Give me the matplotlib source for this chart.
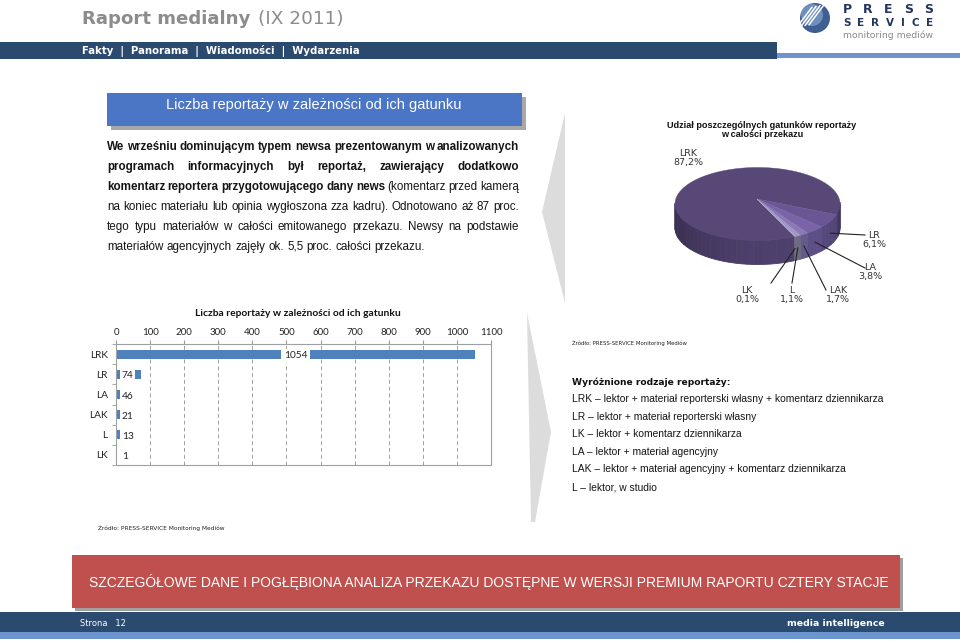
import numpy as np
import matplotlib
matplotlib.use("Agg")
import matplotlib.pyplot as plt
from matplotlib.patches import Rectangle, Polygon, Circle
from matplotlib.colors import to_rgb

# data
CATEGORIES = ["LRK", "LR", "LA", "LAK", "L", "LK"]
COUNTS = [1054, 74, 46, 21, 13, 1]
SHARES = [87.2, 6.1, 3.8, 1.7, 1.1, 0.1]
SHARE_LABELS = ["87,2%", "6,1%", "3,8%", "1,7%", "1,1%", "0,1%"]
X_TICKS = list(range(0, 1101, 100))

LEGEND_ITEMS = [
    "LRK \u2013 lektor + materiał reporterski własny + komentarz dziennikarza",
    "LR \u2013 lektor + materiał reporterski własny",
    "LK \u2013 lektor + komentarz dziennikarza",
    "LA \u2013 lektor + materiał agencyjny",
    "LAK \u2013 lektor + materiał agencyjny + komentarz dziennikarza",
    "L \u2013 lektor, w studio",
]

PARAGRAPH = [
    [("We wrześniu dominującym typem newsa prezentowanym w analizowanych", "bold")],
    [("programach informacyjnych był reportaż, zawierający dodatkowo", "bold")],
    [("komentarz reportera przygotowującego dany news", "bold"), ("(komentarz przed kamerą", "normal")],
    [("na koniec materiału lub opinia wygłoszona zza kadru). Odnotowano aż 87 proc.", "normal")],
    [("tego typu materiałów w całości emitowanego przekazu. Newsy na podstawie", "normal")],
    [("materiałów agencyjnych zajęły ok. 5,5 proc. całości przekazu.", "normal")],
]

NAVY = "#2b4a70"
LIGHT_BLUE = "#6c94cf"
BAR_BLUE = "#4f81bd"
BODY = "Liberation Sans"

fig = plt.figure(figsize=(9.6, 6.44), dpi=100)
fig.patch.set_facecolor("white")
R = fig.canvas.get_renderer()

pg = fig.add_axes([0, 0, 1, 1])
pg.set_xlim(0, 960)
pg.set_ylim(644, 0)
pg.axis("off")


def fit_text(ax, x, y, s, width, size=10, **kw):
    t = ax.text(x, y, s, fontsize=size, **kw)
    w = t.get_window_extent(renderer=R).width
    t.set_fontsize(size * width / w)
    return t


def text_width(s, size, weight="normal", family=BODY):
    t = pg.text(0, 0, s, fontsize=size, fontweight=weight, family=family)
    w = t.get_window_extent(renderer=R).width
    t.remove()
    return w


def spaced_word(s, x0, x1, y, size, color):
    # letters spread evenly between x0 and x1 (logo lettering)
    ts = [pg.text(0, y, ch, fontsize=size, fontweight="bold", family="DejaVu Sans",
                  color=color, va="center") for ch in s]
    ws = [t.get_window_extent(renderer=R).width for t in ts]
    gap = (x1 - x0 - sum(ws)) / (len(ts) - 1)
    x = x0
    for t, w in zip(ts, ws):
        t.set_x(x)
        x += w + gap


def draw_page():
    # header
    fit_text(pg, 82, 19, "Raport medialny", 169, family="DejaVu Sans", fontweight="bold",
             color="#8c8c8c", va="center")
    fit_text(pg, 258, 19, "(IX 2011)", 85, family="DejaVu Sans", color="#8c8c8c", va="center")
    pg.add_patch(Rectangle((0, 42), 777, 17, color=NAVY, lw=0))
    pg.add_patch(Rectangle((777, 53), 183, 5, color=LIGHT_BLUE, lw=0))
    fit_text(pg, 82, 50.5, "Fakty  |  Panorama  |  Wiadomości  |  Wydarzenia", 278,
             family="DejaVu Sans", fontweight="bold", color="white", va="center")

    # logo
    pg.add_patch(Circle((815, 18), 15, color="#3f5f92", lw=0))
    pg.add_patch(Circle((812, 15), 11, color="#6f8fbf", lw=0))
    for k in range(4):
        off = -6 + 4 * k
        pg.plot([803 + off, 818 + off], [26 - off * 0.2, 6 - off * 0.2], color="white", lw=1.1,
                solid_capstyle="round")
    spaced_word("PRESS", 843, 933, 9.5, 9, "#24355c")
    spaced_word("SERVICE", 843, 933, 23, 7.5, "#24355c")
    fit_text(pg, 843, 35.5, "monitoring mediów", 90, family="DejaVu Sans", color="#8a8a8a", va="center")

    # section box
    pg.add_patch(Rectangle((111, 97), 415, 33, color="#a8a8a8", lw=0))
    pg.add_patch(Rectangle((107, 93), 415, 33, color="#4a76c5", lw=0))
    fit_text(pg, 314, 105, "Liczba reportaży w zależności od ich gatunku", 295,
             family=BODY, color="white", ha="center", va="center")

    # justified paragraph
    size = 10 * 412 / text_width(PARAGRAPH[0][0][0], 10, "bold")
    space = text_width("a a", size) - text_width("aa", size)
    for k, line in enumerate(PARAGRAPH):
        y = 146.5 + 20 * k
        words = [(w, wt) for seg, wt in line for w in seg.split()]
        items = []
        for w, wt in words:
            t = pg.text(0, y, w, fontsize=size, fontweight=wt, family=BODY, color="#151515", va="center")
            items.append((t, t.get_window_extent(renderer=R).width))
        total = sum(wd for _, wd in items)
        gap = (519 - 107 - total) / (len(items) - 1) if k < len(PARAGRAPH) - 1 else space
        x = 107
        for t, wd in items:
            t.set_x(x)
            x += wd + gap

    # grey chevrons
    pg.add_patch(Polygon([(565, 113), (542, 212), (565, 303)], closed=True, color="#dcdcdc", lw=0))
    pg.add_patch(Polygon([(527, 313), (551, 432), (535, 522), (531, 522)], closed=True,
                         color="#dcdcdc", lw=0))

    # sources
    fit_text(pg, 572, 343, "Źródło: PRESS-SERVICE Monitoring Mediów", 115, family="DejaVu Sans",
             color="#222", va="center")
    fit_text(pg, 98, 528, "Źródło: PRESS-SERVICE Monitoring Mediów", 125, family="DejaVu Sans",
             color="#222", va="center")

    # legend list
    fit_text(pg, 572, 382, "Wyróżnione rodzaje reportaży:", 158, family="DejaVu Sans",
             fontweight="bold", color="#111", va="center")
    item_size = 10 * 310 / text_width(LEGEND_ITEMS[0], 10)
    for k, s in enumerate(LEGEND_ITEMS):
        pg.text(572, 399 + 17.6 * k, s, fontsize=item_size, family=BODY, color="#151515", va="center")

    # banner
    pg.add_patch(Rectangle((75, 558), 828, 53, color="#a0a0a0", lw=0))
    pg.add_patch(Rectangle((72, 555), 828, 53, color="#c0504d", lw=0))
    fit_text(pg, 489, 582,
             "SZCZEGÓŁOWE DANE I POGŁĘBIONA ANALIZA PRZEKAZU DOSTĘPNE W WERSJI PREMIUM RAPORTU CZTERY STACJE",
             802, family=BODY, color="white", ha="center", va="center")

    # footer
    pg.add_patch(Rectangle((0, 612), 960, 20, color=NAVY, lw=0))
    pg.add_patch(Rectangle((0, 632), 960, 7, color=LIGHT_BLUE, lw=0))
    fit_text(pg, 80, 623, "Strona   12", 46, family="DejaVu Sans", color="white", va="center")
    fit_text(pg, 885, 624, "media intelligence", 98, family="DejaVu Sans", fontweight="bold",
             color="white", ha="right", va="center")


def draw_bars():
    ax = fig.add_axes([116 / 960, 1 - 465 / 644, (491 - 116) / 960, (465 - 344) / 644])
    y = np.arange(len(CATEGORIES))
    ax.barh(y, COUNTS, height=0.45, color=BAR_BLUE, zorder=2)
    ax.set_xlim(0, 1100)
    ax.set_ylim(len(CATEGORIES) - 0.5, -0.5)
    ax.xaxis.tick_top()
    ax.set_xticks(X_TICKS)
    ax.set_xticklabels([str(v) for v in X_TICKS], fontsize=7, family="Lato", color="#222")
    ax.set_yticks(y)
    ax.set_yticklabels(CATEGORIES, fontsize=7.3, family="Lato", color="#222")
    ax.set_yticks(np.arange(-0.5, len(CATEGORIES)), minor=True)
    ax.tick_params(axis="y", which="major", length=0, pad=6)
    ax.tick_params(axis="y", which="minor", length=3, color="#9a9a9a")
    ax.tick_params(axis="x", length=3, color="#9a9a9a", pad=2)
    ax.grid(axis="x", ls=(0, (4, 3)), color="#a0a0a0", lw=0.7, zorder=1)
    for sp in ax.spines.values():
        sp.set_color("#a0a0a0")
        sp.set_linewidth(0.8)
    for i, v in enumerate(COUNTS):
        if v > 200:
            ax.text(v / 2, i + 0.08, str(v), ha="center", va="center", fontsize=7.3, family="Lato",
                    color="#222", zorder=3,
                    bbox=dict(boxstyle="square,pad=0.25", fc="white", ec="none"))
        else:
            ax.text(17, i + 0.08, str(v), ha="left", va="center", fontsize=7.3, family="Lato",
                    color="#222", zorder=3,
                    bbox=dict(boxstyle="square,pad=0.15", fc="white", ec="none"))
    fit_text(pg, 298, 313, "Liczba reportaży w zależności od ich gatunku", 206, family="Lato",
             fontweight="bold", ha="center", va="center", color="#111")


def shade(color, f):
    r, g, b = to_rgb(color)
    return (min(r * f, 1), min(g * f, 1), min(b * f, 1))


def draw_pie():
    cx, cy, a, b, depth = 757.5, 204, 82.5, 36.5, 24
    apex = (757, 199)
    tops = ["#584878", "#6a5694", "#7864a6", "#8a79b6", "#a296c6", "#b4aacc"]
    walls = ["#4a3d68", "#56487c", "#5b4d82", "#605685", "#68667c", "#6c6c7c"]

    # slice angle ranges, clockwise from start
    spans = []
    theta = -17 + 360 * SHARES[0] / 100
    for p in SHARES:
        t1 = theta - 360 * p / 100
        spans.append((t1, theta))
        theta = t1

    def pt(t, dz=0.0):
        r = np.radians(t)
        return cx + a * np.cos(r), cy - b * np.sin(r) + dz

    # walls (front half only)
    for (t1, t2), wc in zip(spans, walls):
        ts = np.arange(t1, t2, 4.0).tolist() + [t2]
        for u0, u1 in zip(ts[:-1], ts[1:]):
            mid = (u0 + u1) / 2
            if np.sin(np.radians(mid)) > 0.05:
                continue
            f = 0.8 + 0.25 * max(0.0, np.cos(np.radians(mid - 290)))
            arc = np.linspace(u0, u1, 6)
            quad = [pt(u) for u in arc] + [pt(u, depth) for u in arc[::-1]]
            c = shade(wc, f)
            pg.add_patch(Polygon(quad, closed=True, fc=c, ec=c, lw=0.6))

    # top faces
    for (t1, t2), tc in zip(spans, tops):
        ts = np.linspace(t1, t2, max(3, int(abs(t2 - t1)) + 2))
        poly = [apex] + [pt(t) for t in ts]
        pg.add_patch(Polygon(poly, closed=True, fc=tc, ec=tc, lw=0.3))

    pg.text(762, 130, "Udział poszczególnych gatunków reportaży\nw całości przekazu", fontsize=6.6,
            family=BODY, fontweight="bold", ha="center", va="center", color="#111", linespacing=1.05)

    label_pos = [(688, 158), (874, 240), (870, 272), (838, 295), (792, 295), (747, 295)]
    line_end = [None, (865, 235), (865, 268), (826, 290), (792, 283), (771, 283)]
    for k, (cat, lab) in enumerate(zip(CATEGORIES, SHARE_LABELS)):
        pg.text(label_pos[k][0], label_pos[k][1], f"{cat}\n{lab}", fontsize=6.8, family="DejaVu Sans",
                ha="center", va="center", color="#333", linespacing=1.0)
        if line_end[k] is not None:
            mid = sum(spans[k]) / 2
            sx, sy = pt(mid, depth * 0.5)
            pg.plot([sx, line_end[k][0]], [sy, line_end[k][1]], color="#222", lw=0.8)


draw_page()
draw_bars()
draw_pie()

fig.savefig("out.png", dpi=100, facecolor="white")
